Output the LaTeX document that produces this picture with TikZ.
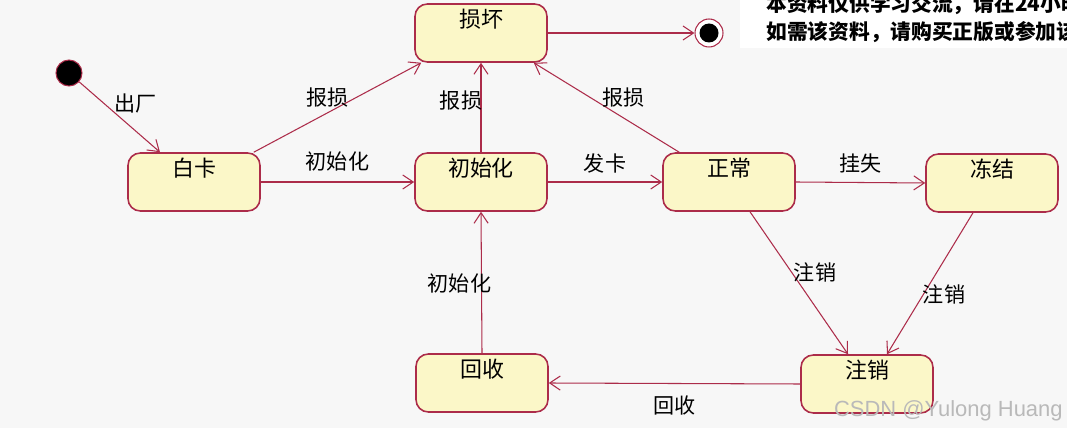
\documentclass[tikz,border=0pt]{standalone}
\usepackage{fontspec}
\setmainfont{Noto Sans CJK SC}
\newfontfamily\markfont{Liberation Sans}
\usetikzlibrary{positioning, arrows.meta, shapes.geometric}
\definecolor{stateline}{RGB}{172,44,74}
\definecolor{statefill}{RGB}{251,247,200}
\definecolor{paper}{RGB}{247,247,247}
\tikzset{%
	>={Straight Barb[length=6pt, width=8pt]},
	every edge/.append style={draw=stateline, line width=0.6pt},
	stat/.style = {rectangle, rounded corners=7pt, draw=stateline, line width=0.9pt, fill=statefill, minimum width=2.64cm, minimum height=1.16cm, inner sep=0pt, text height=13.5pt, text depth=19.5pt, font=\fontsize{12.5}{14}\selectfont},
	lbl/.style = {font=\fontsize{12}{14}\selectfont, inner sep=1pt},
	initdot/.style = {circle, fill=black, draw=stateline, line width=0.6pt, inner sep=0pt, minimum size=0.52cm},
	finaldot/.style = {circle, fill=white, draw=stateline, line width=0.6pt, inner sep=0pt, minimum size=0.56cm, path picture={\fill[black] (path picture bounding box.center) circle (0.19cm);}},
	note/.style = {anchor=west, inner sep=0pt, font=\bfseries\fontsize{11.8}{13}\selectfont}
}
\begin{document}
\begin{tikzpicture}[x=0.02cm, y=-0.02cm]
			\useasboundingbox (0,0) rectangle (1067,428);
			\fill [paper] (0,0) rectangle (1067,428);
			\begin{scope}
			\clip (0,0) rectangle (1067,428);
			\fill [white] (740,0) rectangle (1067,48);
			\node [note] (note1) at (766,4) {本资料仅供学习交流，请在24小时};
			\node [note] (note2) at (766,32) {如需该资料，请购买正版或参加该};
			\end{scope}
			\node [stat] (sh) at (481,33) {损坏};
			\node [stat] (bk) at (194,182) {白卡};
			\node [stat] (csh) at (481,182) {初始化};
			\node [stat] (zc) at (729,182) {正常};
			\node [stat] (dj) at (992,183) {冻结};
			\node [stat] (zx) at (867,384) {注销};
			\node [stat] (hs) at (482,383) {回收};
			\node [initdot] (init) at (69,73) {};
			\node [finaldot] (fin) at (709,33) {};
			\path [->] (init) edge node [lbl, shift={(16,-14)}] {出厂} ([shift={(-34,0)}]bk.north);
			\path [->] ([shift={(-7,0)}]bk.north east) edge node [lbl, shift={(-10,-10)}] {报损} ([shift={(7,0)}]sh.south west);
			\path [->] (bk.east) edge node [lbl, shift={(0,-21)}] {初始化} (csh.west);
			\path [->] (csh.north) edge node [lbl, shift={(-20,-7)}] {报损} (sh.south);
			\path [->] (csh.east) edge node [lbl, shift={(0,-19)}] {发卡} (zc.west);
			\path [->] ([shift={(17,0)}]zc.north west) edge node [lbl, shift={(17,-10)}] {报损} ([shift={(-14,0)}]sh.south east);
			\path [->] (zc.east) edge node [lbl, shift={(0,-19)}] {挂失} (dj.west);
			\path [->] ([shift={(21,0)}]zc.south) edge node [lbl, shift={(16,-11)}] {注销} ([shift={(-19,0)}]zx.north);
			\path [->] ([shift={(-19,0)}]dj.south) edge node [lbl, shift={(14,11)}] {注销} ([shift={(20,0)}]zx.north);
			\path [->] (zx.west) edge node [lbl, shift={(0,22)}] {回收} (hs.east);
			\path [->] (hs.north) edge node [lbl, shift={(-22,1)}] {初始化} (csh.south);
			\path [->] (sh.east) edge (fin);
			\node [font=\markfont\fontsize{12.5}{14}\selectfont, text=gray!55, anchor=east, inner sep=0pt] (mark) at (1063,411) {CSDN @Yulong Huang};
\end{tikzpicture}
\end{document}
